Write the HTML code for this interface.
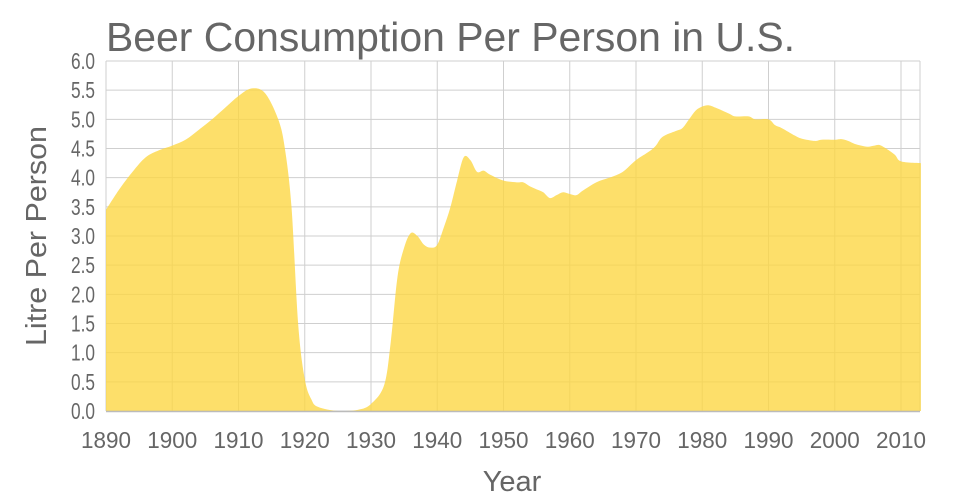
<!DOCTYPE html>
<html><head><meta charset="utf-8"><style>
html,body{margin:0;padding:0;background:#fff;width:960px;height:500px;overflow:hidden}
text{font-family:"Liberation Sans","DejaVu Sans",sans-serif;fill:#666}
</style></head><body>
<svg id="s" width="960" height="500" xmlns="http://www.w3.org/2000/svg">
<g id="grid" stroke="#cfcfcf" stroke-width="1"></g>
<path id="area" fill="#fdd640" fill-opacity="0.78" d=""></path>
<line x1="106" y1="411.5" x2="920" y2="411.5" stroke="#bbb" stroke-width="1.5"/>
<g id="lbl"></g>
<text x="106" y="51" font-size="41" textLength="689" lengthAdjust="spacingAndGlyphs">Beer Consumption Per Person in U.S.</text>
<text x="512" y="491" font-size="29" text-anchor="middle">Year</text>
<text transform="translate(46,236) rotate(-90)" font-size="29" text-anchor="middle" textLength="220" lengthAdjust="spacingAndGlyphs">Litre Per Person</text>
</svg>
<script>
var X=function(y){return 106+(y-1890)*6.625},Y=function(v){return 411-v*58.333};
var g=document.getElementById('grid'),l=document.getElementById('lbl'),ns='http://www.w3.org/2000/svg';
function el(p,t,a,txt){var e=document.createElementNS(ns,t);for(var k in a)e.setAttribute(k,a[k]);if(txt)e.textContent=txt;p.appendChild(e);}
for(var i=0;i<=12;i++){var v=i*0.5,y=Y(v);el(g,'line',{x1:106,x2:920,y1:y,y2:y});el(l,'text',{x:95,y:y+8,'font-size':23,'text-anchor':'end',textLength:24,lengthAdjust:'spacingAndGlyphs'},v.toFixed(1));}
for(var d=1890;d<=2010;d+=10){var x=X(d);el(g,'line',{x1:x,x2:x,y1:61,y2:411});el(l,'text',{x:x,y:448,'font-size':23,'text-anchor':'middle',textLength:50,lengthAdjust:'spacingAndGlyphs'},''+d);}
el(g,'line',{x1:920,x2:920,y1:61,y2:411});
var D=[[1890,3.45],[1892,3.8],[1894,4.1],[1896,4.35],[1898,4.47],[1900,4.55],[1902,4.65],[1904,4.82],[1906,5.0],[1908,5.2],[1910,5.4],[1912,5.53],[1914,5.45],[1916,5.0],[1917,4.5],[1918,3.5],[1919,1.5],[1920,0.55],[1921,0.2],[1922,0.07],[1925,0],[1928,0.02],[1930,0.12],[1932,0.45],[1933,1.2],[1934,2.3],[1935,2.8],[1936,3.05],[1937,3.0],[1938,2.85],[1939,2.8],[1940,2.85],[1941,3.15],[1942,3.5],[1943,3.95],[1944,4.35],[1945,4.3],[1946,4.1],[1947,4.12],[1948,4.05],[1950,3.95],[1952,3.92],[1953,3.92],[1954,3.85],[1955,3.8],[1956,3.75],[1957,3.65],[1958,3.7],[1959,3.75],[1960,3.72],[1961,3.7],[1962,3.78],[1964,3.92],[1966,4.0],[1968,4.1],[1970,4.3],[1972,4.45],[1973,4.55],[1974,4.7],[1976,4.8],[1977,4.85],[1978,5.0],[1979,5.15],[1980,5.22],[1981,5.24],[1982,5.2],[1984,5.1],[1985,5.05],[1987,5.05],[1988,5.0],[1990,5.0],[1991,4.9],[1992,4.85],[1994,4.72],[1995,4.67],[1997,4.63],[1998,4.65],[2000,4.65],[2001,4.66],[2002,4.63],[2003,4.58],[2004,4.55],[2005,4.53],[2006,4.55],[2007,4.55],[2009,4.4],[2010,4.28],[2013,4.25]];
var P=D.map(function(p){return[X(p[0]),Y(p[1])]});
var d='M'+X(1890)+','+Y(0)+'L'+P[0][0]+','+P[0][1];
for(var i=0;i<P.length-1;i++){var p0=P[Math.max(i-1,0)],p1=P[i],p2=P[i+1],p3=P[Math.min(i+2,P.length-1)];
var c1=[p1[0]+(p2[0]-p0[0])/6,p1[1]+(p2[1]-p0[1])/6],c2=[p2[0]-(p3[0]-p1[0])/6,p2[1]-(p3[1]-p1[1])/6];
c1[1]=Math.min(c1[1],411);c2[1]=Math.min(c2[1],411);
d+='C'+c1+' '+c2+' '+p2;}
d+='L'+X(2013)+','+Y(0)+'Z';
document.getElementById('area').setAttribute('d',d);
</script>
</body></html>
